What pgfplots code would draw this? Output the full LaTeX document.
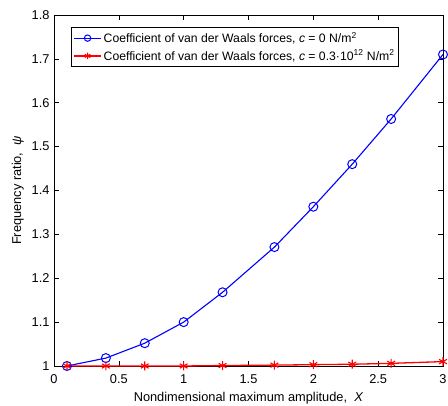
\documentclass[border=0pt]{standalone}
\usepackage{fontspec}
\setmainfont{Liberation Sans}
\usepackage{pgfplots}
\pgfplotsset{compat=1.18}

\pgfplotstableread{
x     psi
0.1   1.000
0.4   1.018
0.7   1.052
1.0   1.100
1.3   1.168
1.7   1.271
2.0   1.363
2.3   1.460
2.6   1.563
3.0   1.710
}\nocoupling

\pgfplotstableread{
x     psi
0.1   1.000
0.4   1.000
0.7   1.000
1.0   1.000
1.3   1.001
1.7   1.002
2.0   1.003
2.3   1.004
2.6   1.006
3.0   1.010
}\withcoupling

\begin{document}
\begin{tikzpicture}
\begin{axis}[
  scale only axis,
  width=389bp, height=351bp,
  xmin=0, xmax=3, ymin=1, ymax=1.8,
  clip=false,
  xtick={0,0.5,...,3},
  ytick={1,1.1,...,1.8},
  yticklabels={1,1.1,1.2,1.3,1.4,1.5,1.6,1.7,1.8},
  xticklabels={0,0.5,1,1.5,2,2.5,3},
  tick align=inside,
  major tick length=5bp,
  tick style={black, line width=0.6bp},
  axis line style={black, line width=0.8bp},
  ticklabel style={font=\fontsize{12.8bp}{14bp}\selectfont},
  xticklabel style={anchor=center, yshift=-13bp},
  yticklabel style={xshift=-1bp},
  /pgf/number format/assume math mode=true,
  xlabel={Nondimensional maximum amplitude,\; \textit{X}},
  ylabel={Frequency ratio,\; \textit{ψ}},
  label style={font=\fontsize{12.8bp}{14bp}\selectfont},
  xlabel style={at={(0.5,0)}, anchor=center, yshift=-32bp},
  ylabel style={yshift=1bp},
  legend style={
    at={(0.044,0.966)}, anchor=north west,
    draw=black, line width=0.6bp,
    font=\fontsize{12.2bp}{13bp}\selectfont,
    row sep=2bp, inner xsep=2bp, inner ysep=3bp,
    cells={anchor=west},
  },
  legend image code/.code={
    \draw[mark repeat=2, mark phase=2, #1, mark size=3.2bp]
      plot coordinates {(0bp,0bp) (13.5bp,0bp) (27bp,0bp)};
  },
  legend cell align=left,
]
\addplot[blue, line width=1.1bp, mark=o, mark size=4.5bp,
  mark options={line width=1bp}] table[x=x, y=psi] {\nocoupling};
\addlegendentry{Coefficient of van der Waals forces, \textit{c} = 0 N/m\textsuperscript{2}}
\addplot[red, line width=1.3bp, mark=asterisk, mark size=4.5bp,
  mark options={line width=1.1bp}] table[x=x, y=psi] {\withcoupling};
\addlegendentry{Coefficient of van der Waals forces, \textit{c} = 0.3·10\textsuperscript{12} N/m\textsuperscript{2}}
\end{axis}
\pgfresetboundingbox
\path[use as bounding box] ([shift={(-54bp,-40bp)}]current axis.south west)
  rectangle ([shift={(5bp,15bp)}]current axis.north east);
\end{tikzpicture}
\end{document}
